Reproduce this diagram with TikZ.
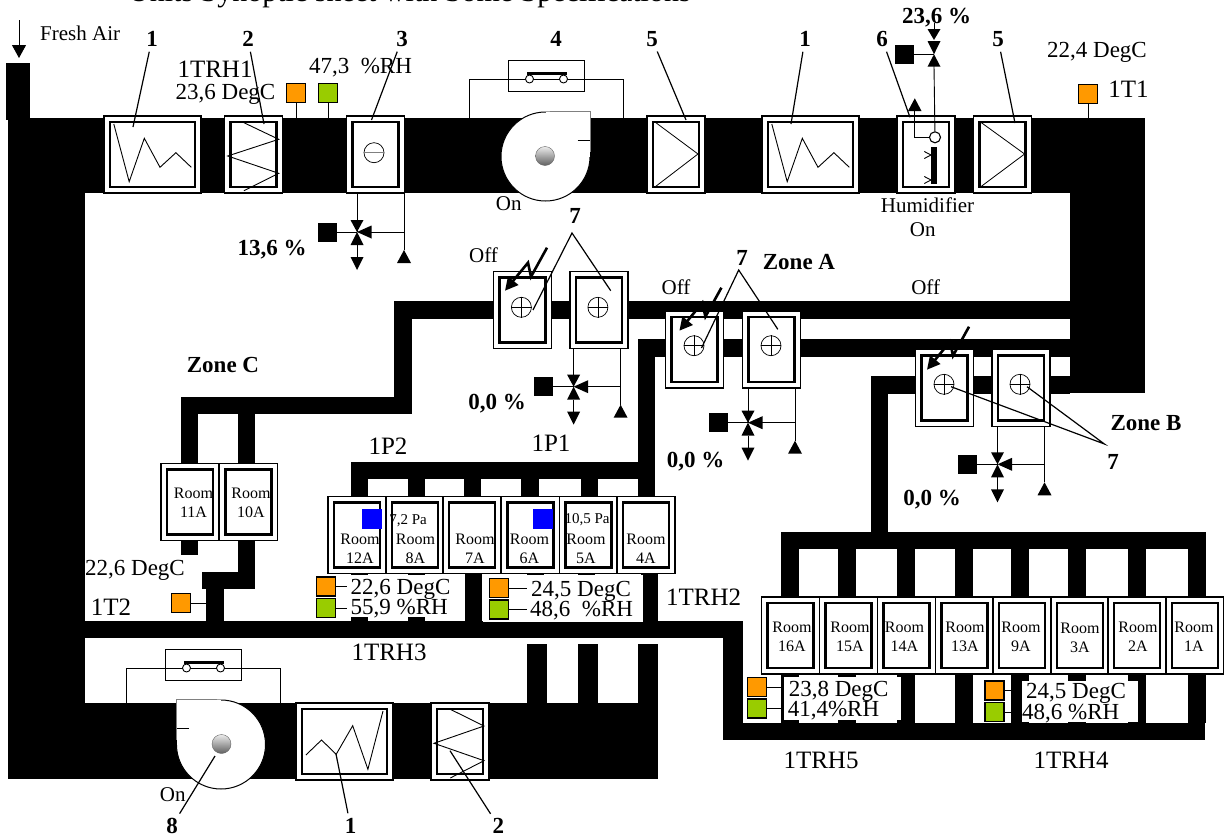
\documentclass[tikz,border=0pt]{standalone}
\usepackage{fontspec}
\setmainfont{Liberation Serif}
\usetikzlibrary{arrows.meta}
\newcommand{\valve}[3]{%
  \coordinate (#1) at (#2,#3);
  \begin{scope}[shift={(#2,#3)}]
    \fill (-6.5,-12) -- (6.5,-12) -- (0,0) -- (6.5,13) -- (-6.5,13) -- (0,0) -- cycle;
    \fill (0,0) -- (14.5,-6.5) -- (14.5,6.5) -- cycle;
    \node[actuator] (#1a) at (-30,0) {};
    \draw[wire] (#1a) -- (0,0);
    \draw[wire] (0,-39) -- (0,0);
    \draw[wire] (0,13) -- (0,26);
    \fill (-6.5,25) -- (6.5,25) -- (0,38) -- cycle;
    \draw[wire] (14,0) -- (47,0);
    \draw[wire] (47,-39) -- (47,18);
    \fill (47,18) -- (40,31) -- (54,31) -- cycle;
  \end{scope}}
\newcommand{\bypass}[4]{%
  \begin{scope}[shift={(#2,#3)}]
    \draw[wire] (-77,#4) -- (-77,3) -- (77,3) -- (77,#4);
    \node[draw, line width=1pt, minimum width=76pt, minimum height=31pt, inner sep=0pt] (#1) at (0,0) {};
    \draw[wire] (-77,3) -- (77,3);
    \node[contact] (#1l) at (-17,3) {};
    \node[contact] (#1r) at (17,3) {};
    \fill (-20,-4.5) rectangle (20,-1.2);
    \draw[line width=.8pt] (#1l) -- (-17,-2) (#1r) -- (17,-2);
  \end{scope}}
\newcommand{\fan}[4]{%
  \begin{scope}[shift={(#2,#3)}, xscale=#4]
    \draw[fill=white, line width=1pt] (0,0) circle (44.5pt);
    \fill[white] (0,-45) rectangle (44.5,0);
    \draw[gray, line width=.8pt] (4,-45) -- (44.5,-45) -- (44.5,-5);
    \draw[line width=.8pt] (32,-16) -- (44.5,-16);
    \shade[top color=gray!15, bottom color=gray!75!black, draw=black!60] (-.5,-.5) circle (9.5pt);
    \coordinate (#1) at (-.5,-.5);
  \end{scope}}
\begin{document}
\begin{tikzpicture}[x=1pt, y=-1pt,
  wire/.style={line width=.9pt},
  leader/.style={line width=1.2pt, shorten <=2pt},
  unit/.style={draw, line width=1.1pt, fill=white, minimum width=58pt, minimum height=77pt,
    inner sep=0pt, path picture={\draw[line width=2.5pt]
      ([shift={(5.8pt,-5.8pt)}]path picture bounding box.north west) rectangle
      ([shift={(-5.8pt,5.8pt)}]path picture bounding box.south east);}},
  wideunit/.style={unit, minimum width=97pt},
  sensor/.style={draw, line width=1.2pt, minimum size=19pt, inner sep=0pt},
  tempsens/.style={sensor, fill=tempcol},
  humsens/.style={sensor, fill=humcol},
  press/.style={fill=blue, minimum size=20pt, inner sep=0pt},
  actuator/.style={fill=black, minimum size=19pt, inner sep=0pt},
  contact/.style={draw, circle, fill=white, line width=.9pt, minimum size=8pt, inner sep=0pt},
  vane/.style={draw, circle, line width=.7pt, minimum size=20pt, inner sep=0pt},
  lab/.style={font=\fontsize{23}{23}\selectfont, inner sep=0pt},
  small/.style={font=\fontsize{21}{21}\selectfont, inner sep=0pt},
  tag/.style={font=\fontsize{25}{25}\selectfont, inner sep=0pt},
  num/.style={font=\fontsize{23}{23}\selectfont\bfseries, inner sep=1pt},
  roomtext/.style={font=\fontsize{16}{19}\selectfont, align=center, inner sep=0pt},
  zap/.style={line width=2.6pt, -{Triangle[length=13pt,width=13pt]}},
]
\definecolor{tempcol}{HTML}{FF9900}
\definecolor{humcol}{HTML}{99CC00}
\useasboundingbox (0,0) rectangle (1224,838);
\node[font=\fontsize{30}{30}\selectfont, anchor=base west, inner sep=0pt] (title) at (128,1.5)
  {Units Synoptic sheet with Some Specifications};

\bypass{bypa}{546.5}{76}{44}
\bypass{bypb}{203.5}{665}{40}

\fill (6,63) rectangle (30,120);
\fill (8,118) rectangle (1145,193);
\fill (8,118) rectangle (85,778);
\fill (1070,118) rectangle (1145,393);
\fill (8,703) rectangle (658,779);
\fill (85,621) rectangle (743,638);
\fill (723,621) rectangle (743,740);
\fill (723,723) rectangle (1205,740);
\foreach \x in {527,578,638} \fill (\x,644) rectangle (\x+20,703);
\fill (181,397) rectangle (412,414);
\fill (181,397) rectangle (198,463);
\fill (238,397) rectangle (255,463);
\fill (394,301) rectangle (412,414);
\fill (394,301) rectangle (1070,319);
\fill (637.5,339) rectangle (1070,357);
\fill (637.5,339) rectangle (655,497);
\fill (871,376) rectangle (1070,394);
\fill (871,376) rectangle (888,532);
\fill (351,462) rectangle (655,479);
\foreach \x/\w in {351/17,408/17,464/17,521/18,581/17,638/17} \fill (\x,479) rectangle (\x+\w,497);
\foreach \x in {351,408,465,527,578,641} \fill (\x,497) rectangle (\x+17,621);
\fill (781,532) rectangle (1206,549);
\foreach \x in {781,838,897,955,1011,1068,1128,1188} \fill (\x,549) rectangle (\x+18,723);
\fill (180.5,541) rectangle (198,555);
\fill (238,541) rectangle (255,589);
\fill (202,572) rectangle (255,589);
\fill (206,589) rectangle (224,621);
\fill[white] (340,575) rectangle (465,617);
\fill[white] (483,575) rectangle (643,622);
\fill[white] (783.5,677) rectangle (900.5,720);
\fill[white] (1022,681) rectangle (1138,722);

\valve{vm}{357}{232}
\valve{vc}{573.6}{386.7}
\valve{va}{748}{422.7}
\valve{vb}{997.5}{464.3}

\foreach \nm/\cx/\cy in {filta/152.5/154.5, filtb/810.5/154.5, filtc/344.5/741.5}
  \node[wideunit] (\nm) at (\cx,\cy) {};
\foreach \nm/\cx/\cy in {coila/253.5/154.5, damp/375.5/154.5, recua/676/154.5,
  humi/926/154.5, recub/1002.5/154.5, coilb/460/741.5,
  ca/522.5/310, cb/599/310, aa/694.5/349.5, ab/771.5/349.5, ba/944.5/388, bb/1021/388,
  room11A/190/502, room10A/248.5/502,
  room12A/357/535, room8A/415/535, room7A/472/535, room6A/530.5/535, room5A/588.5/535, room4A/646/535,
  room16A/790.5/635.5, room15A/848.5/635.5, room14A/906.5/635.5, room13A/964.5/635.5,
  room9A/1022/635.5, room3A/1080/635.5, room2A/1137/635.5, room1A/1195/635.5}
  \node[unit] (\nm) at (\cx,\cy) {};

\foreach \nm/\cx/\cy in {11A/193.5/502.5, 10A/251/502.5,
  12A/360/548.5, 8A/415.5/548.5, 7A/475/548.5, 6A/529.5/548.5, 5A/586/548.5, 4A/646/548.5,
  16A/792/637, 15A/850/637, 14A/904.5/637, 13A/965/637, 9A/1021/637, 3A/1080/638, 2A/1138/637, 1A/1194/637}
  \node[roomtext] (txt\nm) at (\cx,\cy) {Room\\\nm};

\foreach \ox in {0,658}
  \draw[line width=.9pt, shift={(\ox,0)}] (113.8,124) -- (129.2,181.7) -- (144.3,138.3) -- (160,167.3) -- (175.9,152.7) -- (191.3,167.3);
\draw[line width=.9pt] (383,711) -- (367.9,769.3) -- (352.7,725.7) -- (336.2,754.3) -- (321.5,740) -- (305.9,755);
\draw[line width=.9pt] (243.9,122.7) -- (278.7,139.3) -- (227.7,156) -- (278.7,173.3) -- (243.9,190.7);
\draw[line width=.9pt] (450.3,709.3) -- (484,726) -- (434,743.3) -- (484,760.7) -- (450.3,778);
\draw[line width=.8pt] (654.5,121.7) -- (698,154) -- (654.5,187.3);
\draw[line width=.8pt] (980,121.7) -- (1024.6,154) -- (980,187.3);

\node[vane] (vane0) at (374,152.7) {};
\draw[gray, line width=1pt] (vane0.west) -- (vane0.east);
\foreach \nm/\cx/\cy in {vane1/521.4/307.3, vane2/597.9/307.3, vane3/694/345.7, vane4/771/345.7, vane5/944/384.3, vane6/1020/384.3} {
  \node[vane] (\nm) at (\cx,\cy) {};
  \draw[line width=.7pt] (\nm.west) -- (\nm.east) (\nm.north) -- (\nm.south);
}

\fan{huba}{545.5}{156.5}{1}
\fan{hubb}{221}{744.5}{-1}

\foreach \cx/\cy in {504/291.7, 678.4/331.7, 926/370.7}
  \draw[zap, shift={(\cx,\cy)}] (43,-44) -- (27,-15) -- (24,-29) -- (1,-1);

\coordinate (airtop) at (19,20);
\coordinate (airend) at (19,58);
\draw[line width=1pt, -{Triangle[length=13pt,width=14pt]}] (airtop) -- (airend);
\node[small, anchor=west] (fresh) at (40,33) {Fresh Air};

\node[tempsens] (t1) at (296,93) {};
\node[humsens] (h1) at (328,93) {};
\node[tempsens] (t2) at (1088,94) {};
\node[tempsens] (t3) at (181,603) {};
\node[tempsens] (t4) at (326,586.5) {};
\node[humsens] (h4) at (326,608) {};
\node[tempsens] (t5) at (499,588) {};
\node[humsens] (h5) at (499,609.5) {};
\node[tempsens] (t6) at (757,687) {};
\node[humsens] (h6) at (757,708.5) {};
\node[tempsens] (t7) at (994.5,690.5) {};
\node[humsens] (h7) at (994.5,712) {};
\draw[wire] (t1) -- (296,118) (h1) -- (328,118) (t2) -- (1088,118) (t3) -- (206,603);
\draw[wire] (t4) -- (347,586.5) (h4) -- (347,608) (t5) -- (526.6,588) (h5) -- (526.6,609.5);
\draw[wire] (t6) -- (780.5,687) (h6) -- (780.5,708.5) (t7) -- (1011.5,690.5) (h7) -- (1011.5,712);

\node[press] (p1) at (372,519) {};
\node[press] (p2) at (543,519) {};
\node[font=\fontsize{15}{15}\selectfont, inner sep=0pt] (pa1) at (408,521) {7,2 Pa};
\node[font=\fontsize{15}{15}\selectfont, inner sep=0pt] (pa2) at (587,520) {10,5 Pa};

\node[actuator] (humact) at (904.7,54.3) {};
\coordinate (humval) at (934,54.3);
\draw[wire] (humact) -- (humval);
\fill (927.5,41) -- (940.5,41) -- (934,54.3) -- (940.5,66.7) -- (927.5,66.7) -- (934,54.3) -- cycle;
\draw[wire] (934,23) -- (934,30);
\fill (927.5,29) -- (940.5,29) -- (934,40) -- cycle;
\node[contact, minimum size=11pt, line width=1.1pt] (humsp) at (935,137.3) {};
\draw[wire] (934,66) -- (humsp);
\draw[wire] (humsp) -- (914.4,137.3) -- (914.4,110);
\fill (914.8,98.3) -- (908,111) -- (921.5,111) -- cycle;
\fill (931,146.7) rectangle (936.7,184);
\draw[wire] (924.3,151.5) -- (931,155) -- (924.3,158.5) (924.3,176.5) -- (931,180) -- (924.3,183.5);

\node[num] (n1a) at (152,39) {1};
\node[num] (n2a) at (248,39) {2};
\node[num] (n3a) at (402,39) {3};
\node[num] (n4a) at (556,39) {4};
\node[num] (n5a) at (652,39) {5};
\node[num] (n1b) at (805,39) {1};
\node[num] (n6a) at (882,39) {6};
\node[num] (n5b) at (998,39) {5};
\node[num] (n8a) at (172,826) {8};
\node[num] (n1c) at (350.5,826) {1};
\node[num] (n2b) at (498.4,826) {2};
\node[num] (n7a) at (575,216) {7};
\node[num] (n7b) at (742,258) {7};
\node[num] (n7c) at (1113,461.7) {7};
\coordinate (e1a) at (133,127);
\coordinate (e2a) at (264,124);
\coordinate (e3a) at (371.5,120);
\coordinate (e5a) at (686,120);
\coordinate (e1b) at (791,124);
\coordinate (e6a) at (910,117.3);
\coordinate (e5b) at (1015,123);
\coordinate (e8a) at (215,756);
\coordinate (e1c) at (336,754);
\coordinate (e2b) at (450,750.7);
\foreach \a/\b in {n1a/e1a, n2a/e2a, n3a/e3a, n5a/e5a, n1b/e1b, n6a/e6a, n5b/e5b, n8a/e8a, n1c/e1c, n2b/e2b}
  \draw[leader, shorten <=4pt] (\a) -- (\b);
\coordinate (apexc) at (572,233);
\coordinate (apexa) at (738.7,270);
\coordinate (apexb) at (1104.4,444);
\draw[leader, shorten <=0pt] (533,310) -- (apexc) -- (610.7,290.7);
\draw[leader, shorten <=0pt] (701.5,348) -- (apexa) -- (777.8,329.3);
\draw[leader, shorten <=0pt] (951,386.7) -- (apexb) -- (1027,386.7);

\node[tag] (trh1) at (215,69) {1TRH1};
\node[lab] (val1) at (225.5,94) {23,6 DegC};
\node[lab] (val2) at (360.5,68) {47,3\ \ \%RH};
\node[lab] (val3) at (1097,52.7) {22,4 DegC};
\node[tag] (tt1) at (1128.5,89) {1T1};
\node[lab] (val4) at (135,570) {22,6 DegC};
\node[tag] (tt2) at (111,607) {1T2};
\node[lab, anchor=west] (val5) at (350.5,589) {22,6 DegC};
\node[lab, anchor=west] (val6) at (350.5,609) {55,9 \%RH};
\node[lab, anchor=west] (val7) at (531,591) {24,5 DegC};
\node[lab, anchor=west] (val8) at (530,611) {48,6\ \ \%RH};
\node[lab, anchor=west] (val9) at (788.6,691) {23,8 DegC};
\node[lab, anchor=west] (val10) at (787.6,711) {41,4\%RH};
\node[lab, anchor=west] (val11) at (1026,693) {24,5 DegC};
\node[lab, anchor=west] (val12) at (1022,714) {48,6 \%RH};
\node[tag, anchor=west] (trh2) at (666,597) {1TRH2};
\node[tag] (trh3) at (389,652) {1TRH3};
\node[tag] (trh4) at (1071,760) {1TRH4};
\node[tag] (trh5) at (821,760) {1TRH5};
\node[tag] (pp2) at (388,446) {1P2};
\node[tag] (pp1) at (551,443) {1P1};

\node[small] (off1) at (483.6,255.7) {Off};
\node[small] (off2) at (676,287) {Off};
\node[small] (off3) at (925.7,287) {Off};
\node[small] (on1) at (508.7,204) {On};
\node[small] (on2) at (172.7,794.7) {On};
\node[small] (on3) at (922.7,229.3) {On};
\node[small] (humtxt) at (927.5,205) {Humidifier};

\node[num] (pc1) at (272,250) {13,6 \%};
\node[num] (pc2) at (497,404) {0,0 \%};
\node[num] (pc3) at (695.5,461.7) {0,0 \%};
\node[num] (pc4) at (932,500) {0,0 \%};
\node[num] (pc5) at (936.5,17.3) {23,6 \%};
\node[num] (zonea) at (799,261.7) {Zone A};
\node[num] (zoneb) at (1146,423) {Zone B};
\node[num] (zonec) at (223,365) {Zone C};
\end{tikzpicture}
\end{document}
